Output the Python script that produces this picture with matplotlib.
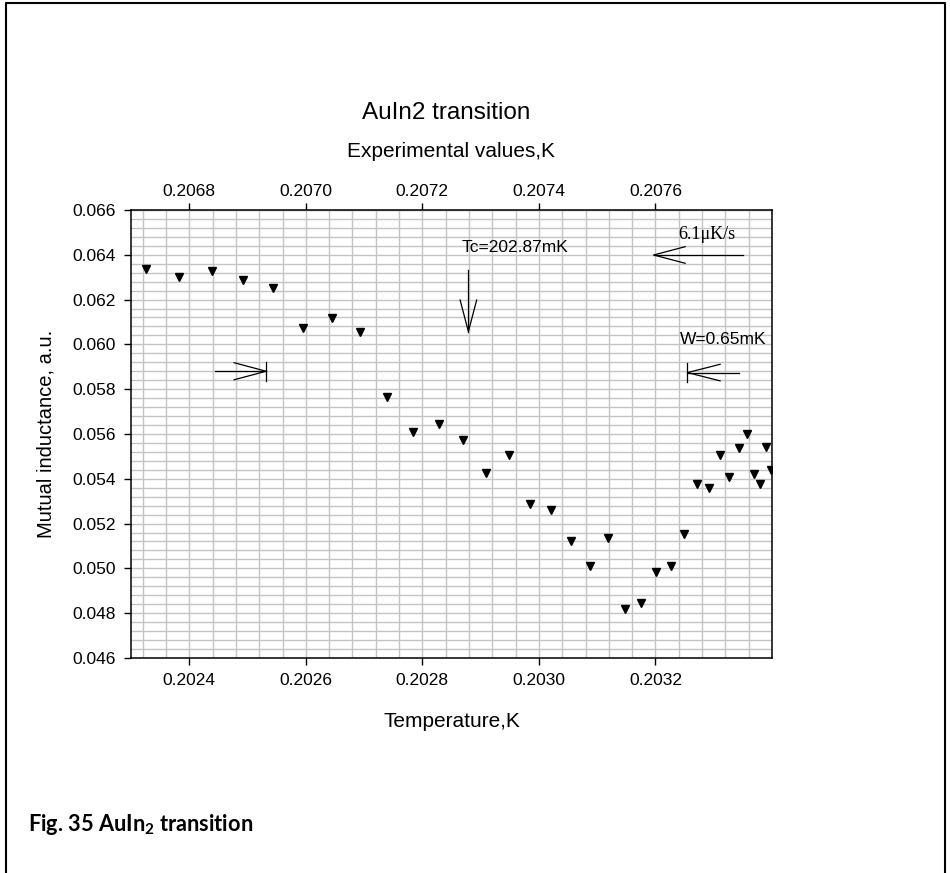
"""AuIn2 superconducting transition: mutual inductance vs. temperature."""

import matplotlib
matplotlib.use("Agg")
import matplotlib.pyplot as plt
import numpy as np
from matplotlib.lines import Line2D
from matplotlib.ticker import MultipleLocator, FormatStrFormatter

plt.rcParams["font.family"] = ["Liberation Sans", "DejaVu Sans"]
plt.rcParams["mathtext.fontset"] = "custom"
plt.rcParams["mathtext.rm"] = "Lato"
plt.rcParams["mathtext.bf"] = "Lato:bold"

# Measured points (temperature K, mutual inductance a.u.)
temperature = [
    0.202326, 0.202382, 0.202439, 0.202492, 0.202544, 0.202595, 0.202645,
    0.202693, 0.202739, 0.202784, 0.202828, 0.202869, 0.202909, 0.202948,
    0.202985, 0.203021, 0.203055, 0.203087, 0.203118, 0.203148, 0.203175,
    0.203201, 0.203227, 0.203249, 0.203271, 0.203292, 0.203310, 0.203327,
    0.203343, 0.203357, 0.203370, 0.203380, 0.203390, 0.203398,
]
inductance = [
    0.06337, 0.06301, 0.06326, 0.06286, 0.06253, 0.06072, 0.06118,
    0.06057, 0.05767, 0.05607, 0.05645, 0.05573, 0.05426, 0.05505,
    0.05289, 0.05259, 0.05122, 0.05009, 0.05137, 0.04820, 0.04844,
    0.04984, 0.05011, 0.05152, 0.05377, 0.05357, 0.05506, 0.05407,
    0.05536, 0.05599, 0.05421, 0.05377, 0.05542, 0.05439,
]

# offset between the thermometer scale (bottom) and experimental values (top)
TOP_OFFSET = 0.0044

x_ticks = [0.2024, 0.2026, 0.2028, 0.2030, 0.2032]
top_ticks = [0.2068, 0.2070, 0.2072, 0.2074, 0.2076]
y_ticks = np.arange(0.046, 0.0661, 0.002)

TC = 0.202879  # transition temperature, K

fig = plt.figure(figsize=(9.5, 8.73), dpi=100)
ax = fig.add_axes([0.1379, 0.2463, 0.6747, 0.5132])

ax.set_xlim(0.2023, 0.2034)
ax.set_ylim(0.046, 0.066)

ax.plot(temperature, inductance, linestyle="none", marker="v",
        markersize=5.5, color="black", zorder=5)

# grid
ax.set_xticks(x_ticks)
ax.set_yticks(y_ticks)
ax.xaxis.set_minor_locator(MultipleLocator(0.00004))
ax.yaxis.set_minor_locator(MultipleLocator(0.0004))
ax.yaxis.set_major_formatter(FormatStrFormatter("%.3f"))
ax.xaxis.set_major_formatter(FormatStrFormatter("%.4f"))
ax.grid(True, which="both", color="#c4c4c4", linewidth=1.0)
ax.set_axisbelow(True)
ax.tick_params(which="minor", length=0)
ax.tick_params(which="major", length=5, width=1, direction="out",
               labelsize=12.5, pad=6)
for sp in ax.spines.values():
    sp.set_linewidth(1.1)

top = ax.secondary_xaxis("top", functions=(lambda t: t + TOP_OFFSET,
                                           lambda t: t - TOP_OFFSET))
top.set_xticks(top_ticks)
top.xaxis.set_major_formatter(FormatStrFormatter("%.4f"))
top.tick_params(length=5, width=1, labelsize=12.5, pad=3)
top.set_xlabel("Experimental values,K", fontsize=15, labelpad=19)

ax.set_xlabel("Temperature,K", fontsize=15, labelpad=17)
ax.set_ylabel("Mutual inductance, a.u.", fontsize=14.5, labelpad=12)

fig.text(0.4695, 0.8705, "AuIn2 transition", fontsize=17.5, ha="center",
         va="center")


def seg(xs, ys):
    ax.add_line(Line2D(xs, ys, color="black", linewidth=0.9,
                       clip_on=False, zorder=6))


# Tc marker arrow (pointing down)
seg([TC, TC], [0.06332, 0.06057])
seg([TC - 0.0000142, TC, TC + 0.0000142], [0.06198, 0.06057, 0.06198])
ax.text(0.202867, 0.064335, "Tc=202.87mK", fontsize=12.5, va="center")

# sweep rate arrow (pointing left)
seg([0.203351, 0.203197], [0.06399, 0.06399])
seg([0.203251, 0.203197, 0.203251], [0.06436, 0.06399, 0.06362])
ax.text(0.203240, 0.064915, "6.1\u03bcK/s", fontsize=13, va="center",
        family=["Liberation Serif", "DejaVu Serif"])

# transition width markers
seg([0.202444, 0.202532], [0.05880, 0.05880])
seg([0.202477, 0.202532, 0.202477], [0.05918, 0.05880, 0.05842])
seg([0.202532, 0.202532], [0.05923, 0.05837])

seg([0.203343, 0.203255], [0.05874, 0.05874])
seg([0.203311, 0.203255, 0.203311], [0.05911, 0.05874, 0.05837])
seg([0.203255, 0.203255], [0.05917, 0.05831])
ax.text(0.203242, 0.060196, "W=0.65mK", fontsize=12.5, va="center")

# caption
fig.text(0.030, 0.056, r"Fig. 35 AuIn$_{\mathbf{2}}$ transition",
         fontsize=15.7, fontweight="bold", family=["Lato", "DejaVu Sans"],
         va="center")

# page frame
frame_x = [0.0065, 0.0065, 0.995, 0.995]
frame_y = [0.0, 0.9966, 0.9966, 0.0]
fig.add_artist(Line2D(frame_x, frame_y, transform=fig.transFigure,
                      color="black", linewidth=1.5))

fig.savefig("out.png", dpi=100)
